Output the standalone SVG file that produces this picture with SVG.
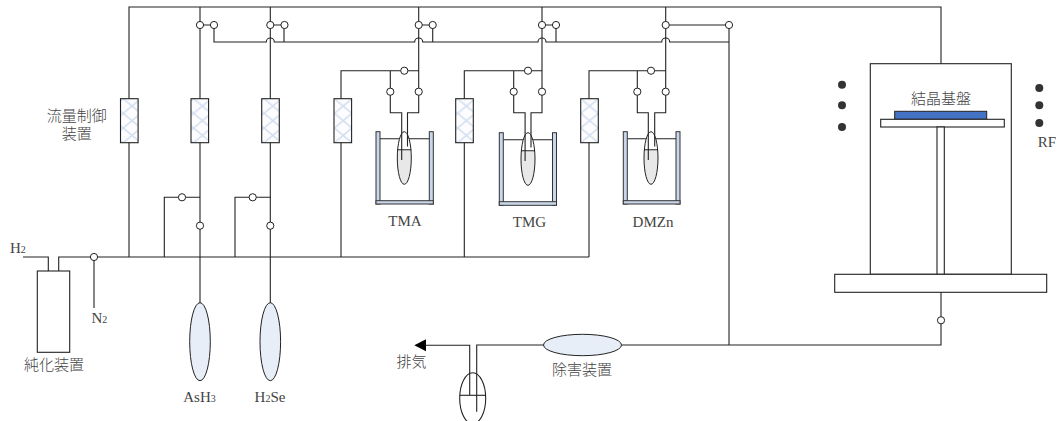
<svg xmlns="http://www.w3.org/2000/svg" width="1059" height="421" viewBox="0 0 1059 421">
<style>
.l{fill:none;stroke:#222;stroke-width:1.1}
.v{fill:#fff;stroke:#222;stroke-width:1}
.mfc{fill:url(#hatch);stroke:#222;stroke-width:1.1}
.wall{fill:#c9d6ea;stroke:#333;stroke-width:1}
.bub{fill:url(#liq);stroke:#222;stroke-width:1}
.gas{fill:#e8eef8;stroke:#222;stroke-width:1}
.box{fill:#fff;stroke:#222;stroke-width:1.1}
.dot{fill:#333}
text{fill:#444}
.s{font-family:"Liberation Serif",serif;font-size:15px}
.c{font-family:"Liberation Serif","Noto Sans CJK JP",serif;font-size:15px;font-weight:300}
.sub{font-size:10px}
</style>
<defs>
<pattern id="hatch" patternUnits="userSpaceOnUse" width="17.6" height="14.67" x="0" y="98.7">
<rect width="17.6" height="14.67" fill="#fdfdff"/>
<path d="M0 0L17.6 14.67M17.6 0L0 14.67" stroke="#d3def0" stroke-width="1.6" fill="none"/>
</pattern>
<linearGradient id="liq" x1="0" y1="0" x2="0" y2="1">
<stop offset="0.345" stop-color="#fff"/><stop offset="0.345" stop-color="#e8e8e8"/>
</linearGradient>
</defs>

<g id="connectors">
<path class="l" d="M129 257V7H941V64"/>
<path class="l" d="M23 257H48.3V271M58.7 271V257H589"/>
<path class="l" d="M94 257V308"/>
<path class="l" d="M200 7V303"/>
<path class="l" d="M270.3 7V303"/>
<path class="l" d="M200 25H214V42H266.3A4 4 0 0 1 274.3 42H414.7A4 4 0 0 1 422.7 42H538A4 4 0 0 1 546 42H661.7A4 4 0 0 1 669.7 42H729"/>
<path class="l" d="M270.3 25H284V42"/>
<path class="l" d="M418.7 25H432.7V42"/>
<path class="l" d="M542 25H556V42"/>
<path class="l" d="M665.7 25H729"/>
<path class="l" d="M729 25V345"/>
<path class="l" d="M622 345H941V292"/>
<path class="l" d="M164.3 257V197.3H200"/>
<path class="l" d="M235 257V197.3H270.3"/>
<path class="l" d="M418.7 7V112.7H407.5V132M341 257V70.7H418.7M390.3 70.7V112.7H401.7V132"/>
<path class="l" d="M542 7V112.7H531V133M464.3 257V70.7H542M513.7 70.7V112.7H525.1V133"/>
<path class="l" d="M665.7 7V112.7H654.7V132M589 257V70.7H665.7M637.3 70.7V112.7H648.3V132"/>
<path class="l" d="M543.3 345H476.7V411.7M469.7 395V345.3H425"/>
<path fill="#000" d="M414.3 345.3L426 339.3V351.3Z"/>
</g>

<g id="mfc-group">
<rect id="mfc1" class="mfc" x="120.5" y="98.7" width="17.6" height="44"/>
<rect id="mfc2" class="mfc" x="191" y="98.7" width="17.6" height="44"/>
<rect id="mfc3" class="mfc" x="261.7" y="98.7" width="17.6" height="44"/>
<rect id="mfc4" class="mfc" x="334" y="98.7" width="17.6" height="44"/>
<rect id="mfc5" class="mfc" x="455.7" y="98.7" width="17.6" height="44"/>
<rect id="mfc6" class="mfc" x="580.7" y="98.7" width="17.6" height="44"/>
</g>

<g id="valves">
<circle class="v" cx="200" cy="25" r="3.6"/><circle class="v" cx="214" cy="25" r="3.6"/>
<circle class="v" cx="270.3" cy="25" r="3.6"/><circle class="v" cx="284.5" cy="25" r="3.6"/>
<circle class="v" cx="418.7" cy="25" r="3.6"/><circle class="v" cx="432.7" cy="25" r="3.6"/>
<circle class="v" cx="542" cy="25" r="3.6"/><circle class="v" cx="556" cy="25" r="3.6"/>
<circle class="v" cx="665.7" cy="25" r="3.6"/><circle class="v" cx="729" cy="25" r="3.6"/>
<circle class="v" cx="182" cy="197.3" r="3.6"/><circle class="v" cx="200" cy="225.7" r="3.6"/>
<circle class="v" cx="252.7" cy="197.3" r="3.6"/><circle class="v" cx="270.3" cy="225.7" r="3.6"/>
<circle class="v" cx="404.3" cy="70.7" r="3.6"/><circle class="v" cx="390.3" cy="91.7" r="3.6"/><circle class="v" cx="418.7" cy="91.7" r="3.6"/>
<circle class="v" cx="528" cy="70.7" r="3.6"/><circle class="v" cx="513.7" cy="91.7" r="3.6"/><circle class="v" cx="542" cy="91.7" r="3.6"/>
<circle class="v" cx="651" cy="70.7" r="3.6"/><circle class="v" cx="637.3" cy="91.7" r="3.6"/><circle class="v" cx="665.7" cy="91.7" r="3.6"/>
<circle class="v" cx="94" cy="257" r="3.6"/>
<circle class="v" cx="941" cy="320.3" r="3.6"/>
</g>

<g id="bath-tma">
<path class="l" d="M380 138.7H429.3"/>
<ellipse class="bub" cx="404.3" cy="158" rx="7" ry="26.3"/>
<path class="l" d="M401.7 131.7V160M407.5 131.7V146.5M397.3 149.7H411.3"/>
<rect class="wall" x="376" y="131.7" width="4" height="72.3"/>
<rect class="wall" x="429.3" y="131.7" width="4" height="72.3"/>
<rect class="wall" x="376" y="200.7" width="57.3" height="3.3"/>
<text class="s" x="405" y="226" text-anchor="middle">TMA</text>
</g>
<g id="bath-tmg">
<path class="l" d="M503.3 139.7H552.3"/>
<ellipse class="bub" cx="528" cy="159" rx="7" ry="26.3"/>
<path class="l" d="M525.1 132.7V161M531 132.7V147.5M521 150.7H535"/>
<rect class="wall" x="499.3" y="132.7" width="4" height="72.6"/>
<rect class="wall" x="552.5" y="132.7" width="4" height="72.6"/>
<rect class="wall" x="499.3" y="201.7" width="57.2" height="3.6"/>
<text class="s" x="529.5" y="227" text-anchor="middle">TMG</text>
</g>
<g id="bath-dmzn">
<path class="l" d="M627.3 138.7H676"/>
<ellipse class="bub" cx="651" cy="158" rx="7" ry="26.3"/>
<path class="l" d="M648.3 131.7V160M654.7 131.7V146.5M644 149.7H658"/>
<rect class="wall" x="623.3" y="131.7" width="4" height="72.3"/>
<rect class="wall" x="676" y="131.7" width="4" height="72.3"/>
<rect class="wall" x="623.3" y="200.7" width="56.7" height="3.3"/>
<text class="s" x="653" y="227" text-anchor="middle">DMZn</text>
</g>

<g id="purifier">
<rect class="box" x="37.3" y="271" width="32.4" height="81.3"/>
<text class="c" x="54" y="370" text-anchor="middle">純化装置</text>
</g>
<g id="source-ash3">
<ellipse class="gas" cx="200" cy="341.7" rx="10.3" ry="39"/>
<text class="s" x="199.5" y="402" text-anchor="middle">AsH<tspan class="sub">3</tspan></text>
</g>
<g id="source-h2se">
<ellipse class="gas" cx="270.3" cy="341.7" rx="10.3" ry="39"/>
<text class="s" x="270" y="402" text-anchor="middle">H<tspan class="sub">2</tspan>Se</text>
</g>
<g id="abatement">
<ellipse class="gas" cx="582.5" cy="345" rx="39" ry="10.7"/>
<text class="c" x="582" y="375" text-anchor="middle">除害装置</text>
</g>
<g id="pump">
<ellipse class="l" cx="472.7" cy="398.2" rx="13" ry="25.5"/>
<path class="l" d="M459.7 395.3H485.7"/>
</g>

<g id="chamber">
<rect class="box" x="870.3" y="63.7" width="141" height="210.6"/>
<rect fill="#4472c4" stroke="#222" x="894.7" y="111.3" width="92" height="8"/>
<rect class="box" x="880.7" y="119.3" width="123.6" height="7.7"/>
<rect class="box" x="937" y="127" width="7.3" height="147.3"/>
<rect class="box" x="834.7" y="274.3" width="212" height="18"/>
<text class="c" x="941" y="103.5" text-anchor="middle">結晶基盤</text>
</g>
<g id="rf">
<circle class="dot" cx="842" cy="84.7" r="4"/><circle class="dot" cx="842" cy="105.3" r="4"/><circle class="dot" cx="842" cy="127" r="4"/>
<circle class="dot" cx="1039.3" cy="88" r="4"/><circle class="dot" cx="1039.3" cy="105.3" r="4"/><circle class="dot" cx="1039.3" cy="123" r="4"/>
<text class="s" x="1047" y="147" text-anchor="middle">RF</text>
</g>
<g id="labels">
<text class="c" text-anchor="middle"><tspan x="76.7" y="121">流量制御</tspan><tspan x="76.7" y="138.5">装置</tspan></text>
<text class="s" x="10" y="252.5">H<tspan class="sub">2</tspan></text>
<text class="s" x="91.5" y="323">N<tspan class="sub">2</tspan></text>
<text class="c" x="411.5" y="367" text-anchor="middle">排気</text>
</g>
</svg>
